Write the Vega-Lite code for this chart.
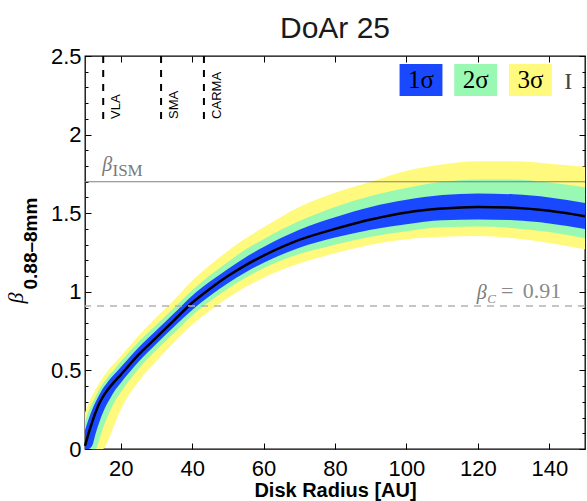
{
"$schema":"https://vega.github.io/schema/vega-lite/v6.json",
"width":500,"height":393,"autosize":"none",
"padding":{"left":85,"top":56,"right":2,"bottom":52},
"background":"white",
"title":{"text":"DoAr 25","font":"Liberation Sans","fontSize":30,"fontWeight":"normal","color":"#1a1a1a","anchor":"middle","frame":"group","baseline":"alphabetic","offset":-23},
"config":{"view":{"stroke":"black","strokeWidth":1.3},"axis":{"grid":false,"domain":false,"tickColor":"black","tickWidth":1,"labelColor":"black","labelFont":"Liberation Sans","titleColor":"black"}},
"datasets":{
"bands":[
{"x":10,"m":0.02,"b1lo":0.0,"b1hi":0.12,"b2lo":0.0,"b2hi":0.17,"b3lo":0.0,"b3hi":0.23},
{"x":11,"m":0.10,"b1lo":0.0,"b1hi":0.19,"b2lo":0.0,"b2hi":0.24,"b3lo":0.0,"b3hi":0.29},
{"x":12,"m":0.17,"b1lo":0.02,"b1hi":0.25,"b2lo":0.0,"b2hi":0.29,"b3lo":0.0,"b3hi":0.34},
{"x":13,"m":0.235,"b1lo":0.10,"b1hi":0.30,"b2lo":0.0,"b2hi":0.335,"b3lo":0.0,"b3hi":0.38},
{"x":14,"m":0.29,"b1lo":0.17,"b1hi":0.345,"b2lo":0.06,"b2hi":0.38,"b3lo":0.0,"b3hi":0.42},
{"x":15,"m":0.332,"b1lo":0.23,"b1hi":0.385,"b2lo":0.13,"b2hi":0.415,"b3lo":0.0,"b3hi":0.455},
{"x":16,"m":0.366,"b1lo":0.28,"b1hi":0.415,"b2lo":0.19,"b2hi":0.445,"b3lo":0.03,"b3hi":0.485},
{"x":17,"m":0.395,"b1lo":0.32,"b1hi":0.445,"b2lo":0.24,"b2hi":0.475,"b3lo":0.085,"b3hi":0.515},
{"x":18,"m":0.422,"b1lo":0.36,"b1hi":0.47,"b2lo":0.29,"b2hi":0.50,"b3lo":0.14,"b3hi":0.54},
{"x":20,"m":0.472,"b1lo":0.42,"b1hi":0.52,"b2lo":0.36,"b2hi":0.555,"b3lo":0.25,"b3hi":0.59},
{"x":25,"m":0.60,"b1lo":0.555,"b1hi":0.645,"b2lo":0.51,"b2hi":0.68,"b3lo":0.43,"b3hi":0.72},
{"x":30,"m":0.71,"b1lo":0.67,"b1hi":0.755,"b2lo":0.63,"b2hi":0.79,"b3lo":0.56,"b3hi":0.84},
{"x":35,"m":0.82,"b1lo":0.78,"b1hi":0.865,"b2lo":0.74,"b2hi":0.90,"b3lo":0.68,"b3hi":0.95},
{"x":40,"m":0.93,"b1lo":0.885,"b1hi":0.975,"b2lo":0.85,"b2hi":1.01,"b3lo":0.79,"b3hi":1.07},
{"x":45,"m":1.02,"b1lo":0.975,"b1hi":1.065,"b2lo":0.94,"b2hi":1.105,"b3lo":0.88,"b3hi":1.17},
{"x":50,"m":1.10,"b1lo":1.055,"b1hi":1.145,"b2lo":1.02,"b2hi":1.19,"b3lo":0.96,"b3hi":1.26},
{"x":55,"m":1.17,"b1lo":1.125,"b1hi":1.22,"b2lo":1.09,"b2hi":1.27,"b3lo":1.03,"b3hi":1.34},
{"x":60,"m":1.23,"b1lo":1.185,"b1hi":1.285,"b2lo":1.15,"b2hi":1.335,"b3lo":1.09,"b3hi":1.41},
{"x":70,"m":1.33,"b1lo":1.28,"b1hi":1.395,"b2lo":1.24,"b2hi":1.45,"b3lo":1.18,"b3hi":1.54},
{"x":80,"m":1.40,"b1lo":1.345,"b1hi":1.475,"b2lo":1.30,"b2hi":1.54,"b3lo":1.245,"b3hi":1.63},
{"x":90,"m":1.46,"b1lo":1.395,"b1hi":1.54,"b2lo":1.35,"b2hi":1.61,"b3lo":1.30,"b3hi":1.70},
{"x":100,"m":1.505,"b1lo":1.43,"b1hi":1.585,"b2lo":1.385,"b2hi":1.66,"b3lo":1.335,"b3hi":1.77},
{"x":110,"m":1.53,"b1lo":1.455,"b1hi":1.615,"b2lo":1.41,"b2hi":1.70,"b3lo":1.35,"b3hi":1.81},
{"x":120,"m":1.54,"b1lo":1.46,"b1hi":1.625,"b2lo":1.415,"b2hi":1.715,"b3lo":1.355,"b3hi":1.83},
{"x":130,"m":1.535,"b1lo":1.455,"b1hi":1.62,"b2lo":1.405,"b2hi":1.715,"b3lo":1.34,"b3hi":1.83},
{"x":140,"m":1.515,"b1lo":1.435,"b1hi":1.60,"b2lo":1.38,"b2hi":1.695,"b3lo":1.31,"b3hi":1.815},
{"x":150,"m":1.48,"b1lo":1.40,"b1hi":1.565,"b2lo":1.34,"b2hi":1.665,"b3lo":1.27,"b3hi":1.795}
],
"ism":[{"beta":1.7}],
"bc":[{"beta":0.91}],
"inst":[{"name":"VLA","x":15.1},{"name":"SMA","x":31.3},{"name":"CARMA","x":43.3}],
"greek":[{"t":"β","x":14.8,"y":1.767},{"t":"β","x":119.7,"y":0.955}],
"ismsub":[{"t":"ISM","x":17.7,"y":1.735}],
"csub":[{"t":"C","x":122.6,"y":0.93}],
"eq":[{"t":"=","x":126.5,"y":0.962},{"t":"0.91","x":132.6,"y":0.962}],
"errsym":[{"t":"I","x":145.3,"y":2.287}]
},
"resolve":{"axis":{"x":"independent","y":"independent"}},
"layer":[
{"data":{"name":"bands"},"mark":{"type":"area","interpolate":"monotone","opacity":1},
 "encoding":{
  "x":{"field":"x","type":"quantitative","scale":{"domain":[10,150],"nice":false,"zero":false},
   "axis":{"orient":"bottom","values":[20,40,60,80,100,120,140],"format":"d","tickSize":-6,"labelPadding":15,"labelFontSize":22,"title":"Disk Radius [AU]","titleFont":"Liberation Sans","titleFontSize":20,"titleFontWeight":"bold","titleX":250,"titleY":47,"titleAlign":"center","titleBaseline":"alphabetic"}},
  "y":{"field":"b3lo","type":"quantitative","scale":{"domain":[0,2.5],"nice":false,"zero":false},
   "axis":{"orient":"left","values":[0,0.5,1,1.5,2,2.5],"format":"~g","tickSize":-6,"labelPadding":10,"labelFontSize":22,"title":"β","titleFont":"Liberation Serif","titleFontStyle":"italic","titleFontWeight":"normal","titleFontSize":22,"titleAngle":270,"titleAlign":"left","titleBaseline":"alphabetic","titleX":-63,"titleY":247}},
  "y2":{"field":"b3hi"},
  "color":{"datum":"3σ","type":"nominal","scale":{"domain":["1σ","2σ","3σ"],"range":["#1a48ff","#99f9b2","#fffa7d"]},
   "legend":{"orient":"none","legendX":320,"legendY":8,"direction":"horizontal","title":null,"symbolType":"M-1.34,-1H1.34V1H-1.34Z","symbolSize":1024,"symbolStrokeWidth":0,"symbolOpacity":1,"labelFont":"Liberation Serif","labelFontSize":25,"labelColor":"black","labelAlign":"center","labelOffset":-16,"columnPadding":10.7,"padding":0,"labelLimit":0}}
 }},
{"data":{"name":"bands"},"mark":{"type":"area","interpolate":"monotone","opacity":1},
 "encoding":{
  "x":{"field":"x","type":"quantitative","axis":null},
  "y":{"field":"b2lo","type":"quantitative","axis":null},
  "y2":{"field":"b2hi"},
  "color":{"datum":"2σ","type":"nominal","scale":{"domain":["1σ","2σ","3σ"],"range":["#1a48ff","#99f9b2","#fffa7d"]}}
 }},
{"data":{"name":"bands"},"mark":{"type":"area","interpolate":"monotone","opacity":1},
 "encoding":{
  "x":{"field":"x","type":"quantitative","axis":null},
  "y":{"field":"b1lo","type":"quantitative","axis":null},
  "y2":{"field":"b1hi"},
  "color":{"datum":"1σ","type":"nominal","scale":{"domain":["1σ","2σ","3σ"],"range":["#1a48ff","#99f9b2","#fffa7d"]}}
 }},
{"data":{"name":"bands"},"mark":{"type":"line","interpolate":"monotone","color":"black","strokeWidth":2.5},
 "encoding":{
  "x":{"field":"x","type":"quantitative","axis":{"orient":"top","values":[20,40,60,80,100,120,140],"labels":false,"tickSize":-6,"title":null}},
  "y":{"field":"m","type":"quantitative","axis":{"orient":"right","values":[0,0.5,1,1.5,2,2.5],"labels":false,"tickSize":-6,"title":null}}
 }},
{"data":{"name":"ism"},"mark":{"type":"rule","color":"#7f7f7f","strokeWidth":1},
 "encoding":{
  "y":{"field":"beta","type":"quantitative","axis":{"orient":"left","values":[0.1,0.2,0.3,0.4,0.6,0.7,0.8,0.9,1.1,1.2,1.3,1.4,1.6,1.7,1.8,1.9,2.1,2.2,2.3,2.4],"labels":false,"tickSize":-3,"title":"0.88–8mm","titleFont":"Liberation Sans","titleFontWeight":"bold","titleFontSize":19,"titleAngle":270,"titleAlign":"left","titleBaseline":"alphabetic","titleX":-49,"titleY":233}}
 }},
{"data":{"name":"bc"},"mark":{"type":"rule","color":"#b3b3b3","strokeWidth":1.5,"strokeDash":[7,6]},
 "encoding":{
  "y":{"field":"beta","type":"quantitative","axis":{"orient":"right","values":[0.1,0.2,0.3,0.4,0.6,0.7,0.8,0.9,1.1,1.2,1.3,1.4,1.6,1.7,1.8,1.9,2.1,2.2,2.3,2.4],"labels":false,"tickSize":-3,"title":null}}
 }},
{"data":{"name":"inst"},"mark":{"type":"rule","color":"black","strokeWidth":2,"strokeDash":[7,7]},
 "encoding":{
  "x":{"field":"x","type":"quantitative","axis":null},
  "y":{"datum":2.5,"axis":null},
  "y2":{"datum":2.1}
 }},
{"data":{"name":"inst"},"mark":{"type":"text","angle":270,"align":"left","baseline":"top","dy":7,"font":"Liberation Sans","fontSize":13,"color":"black"},
 "encoding":{
  "x":{"field":"x","type":"quantitative","axis":null},
  "y":{"datum":2.1,"axis":null},
  "text":{"field":"name"}
 }},
{"data":{"name":"greek"},"mark":{"type":"text","align":"left","baseline":"alphabetic","font":"Liberation Serif","fontStyle":"italic","fontSize":20,"color":"#7a7a7a"},
 "encoding":{"x":{"field":"x","type":"quantitative","axis":null},"y":{"field":"y","type":"quantitative","axis":null},"text":{"field":"t"}}},
{"data":{"name":"ismsub"},"mark":{"type":"text","align":"left","baseline":"alphabetic","font":"Liberation Serif","fontSize":17,"color":"#7a7a7a"},
 "encoding":{"x":{"field":"x","type":"quantitative","axis":null},"y":{"field":"y","type":"quantitative","axis":null},"text":{"field":"t"}}},
{"data":{"name":"csub"},"mark":{"type":"text","align":"left","baseline":"alphabetic","font":"Liberation Serif","fontStyle":"italic","fontSize":13,"color":"#8a8a8a"},
 "encoding":{"x":{"field":"x","type":"quantitative","axis":null},"y":{"field":"y","type":"quantitative","axis":null},"text":{"field":"t"}}},
{"data":{"name":"eq"},"mark":{"type":"text","align":"left","baseline":"alphabetic","font":"Liberation Serif","fontSize":22,"color":"#8a8a8a"},
 "encoding":{"x":{"field":"x","type":"quantitative","axis":null},"y":{"field":"y","type":"quantitative","axis":null},"text":{"field":"t"}}},
{"data":{"name":"errsym"},"mark":{"type":"text","align":"center","baseline":"alphabetic","font":"Liberation Serif","fontSize":24,"color":"#444444"},
 "encoding":{"x":{"field":"x","type":"quantitative","axis":null},"y":{"field":"y","type":"quantitative","axis":null},"text":{"field":"t"}}}
]
}
